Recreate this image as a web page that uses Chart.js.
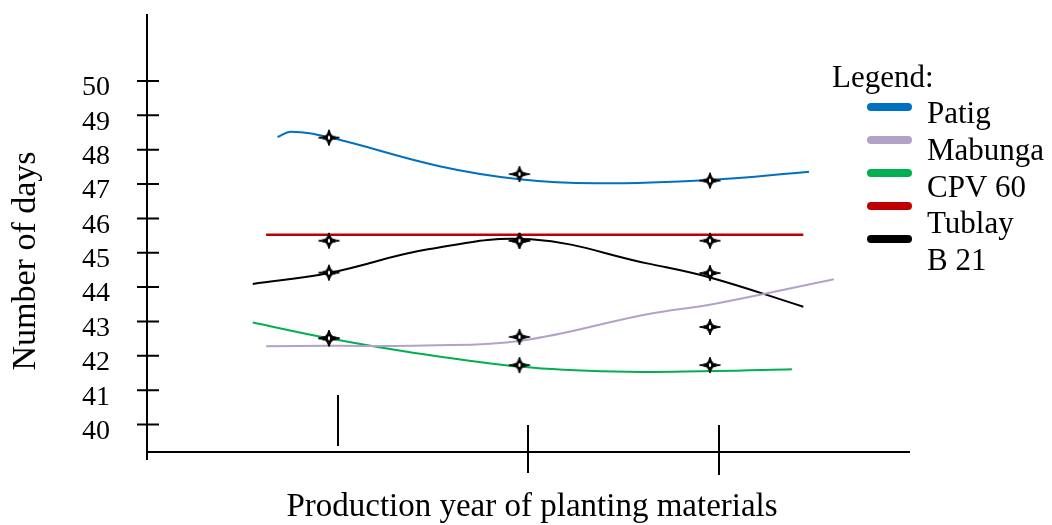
<!DOCTYPE html>
<html>
<head>
<meta charset="utf-8">
<script src="https://cdn.jsdelivr.net/npm/chart.js@4.4.1/dist/chart.umd.min.js"></script>
<style>
  html, body { margin: 0; padding: 0; background: #fff; }
  canvas { display: block; }
</style>
</head>
<body>
<canvas id="plantingDaysCanvas" width="1052" height="525"></canvas>
<script>
// production years (the original axis has no year labels)
const years = [1, 2, 3];
const yTickValues = [40, 41, 42, 43, 44, 45, 46, 47, 48, 49, 50];
const seriesNames = ['Patig', 'Mabunga', 'CPV 60', 'Tublay', 'B 21'];
const seriesColors = ['#0070c0', '#b3a2c7', '#00b050', '#c00000', '#000000'];

// observed number of days per production year
const patigDays = [48.35, 47.29, 47.10];
const mabungaDays = [42.51, 42.55, 42.84];
const cpv60Days = [42.51, 41.73, 41.73];
const tublayDays = [45.35, 45.35, 45.35];
const b21Days = [44.42, 45.35, 44.41];

// trend curves as drawn on the original, [year position, days]
const patigTrend = [[0.73, 48.37], [0.80, 48.52], [1.0, 48.36], [1.58, 47.52], [2.0, 47.14], [2.4, 47.02], [3.0, 47.12], [3.52, 47.36]];
const mabungaTrend = [[0.67, 42.28], [1.0, 42.29], [1.5, 42.30], [2.01, 42.44], [2.67, 43.21], [3.02, 43.51], [3.65, 44.23]];
const cpv60Trend = [[0.60, 42.97], [1.0, 42.51], [1.41, 42.12], [2.01, 41.68], [2.5, 41.54], [3.02, 41.56], [3.43, 41.61]];
const tublayTrend = [[0.67, 45.52], [3.49, 45.52]];
const b21Trend = [[0.60, 44.09], [1.0, 44.41], [1.52, 45.10], [2.06, 45.39], [2.67, 44.69], [3.0, 44.28], [3.49, 43.43]];

const observed = [patigDays, mabungaDays, cpv60Days, tublayDays, b21Days];
const trends = [patigTrend, mabungaTrend, cpv60Trend, tublayTrend, b21Trend];

const serif = '"Liberation Serif", "Times New Roman", serif';

// four pointed marker with a small white centre
function makeStarMarker() {
  const c = document.createElement('canvas');
  c.width = 26;
  c.height = 20;
  const g = c.getContext('2d');
  const cx = 13, cy = 10;
  g.beginPath();
  g.moveTo(cx + 10.5, cy);
  g.quadraticCurveTo(cx + 3, cy + 1.5, cx + 2.6, cy + 2.6);
  g.quadraticCurveTo(cx + 1.4, cy + 3.5, cx, cy + 8);
  g.quadraticCurveTo(cx - 1.4, cy + 3.5, cx - 2.6, cy + 2.6);
  g.quadraticCurveTo(cx - 3, cy + 1.5, cx - 10.5, cy);
  g.quadraticCurveTo(cx - 3, cy - 1.5, cx - 2.6, cy - 2.6);
  g.quadraticCurveTo(cx - 1.4, cy - 3.5, cx, cy - 8);
  g.quadraticCurveTo(cx + 1.4, cy - 3.5, cx + 2.6, cy - 2.6);
  g.quadraticCurveTo(cx + 3, cy - 1.5, cx + 10.5, cy);
  g.closePath();
  g.fillStyle = '#000';
  g.fill();
  g.lineWidth = 1;
  g.strokeStyle = '#000';
  g.stroke();
  g.beginPath();
  g.ellipse(cx, cy, 1.2, 2, 0, 0, Math.PI * 2);
  g.fillStyle = '#fff';
  g.fill();
  return c;
}
const starMarker = makeStarMarker();

const datasets = [];
observed.forEach((vals, i) => {
  datasets.push({
    label: seriesNames[i] + ' observed',
    data: years.map((yr, j) => ({ x: yr, y: vals[j] })),
    showLine: false,
    pointStyle: starMarker,
    pointRadius: 10,
    borderColor: '#000',
    backgroundColor: '#000'
  });
});
trends.forEach((pts, i) => {
  datasets.push({
    label: seriesNames[i],
    data: pts.map(p => ({ x: p[0], y: p[1] })),
    borderColor: seriesColors[i],
    borderWidth: i === 3 ? 2.5 : 2,
    pointRadius: 0,
    tension: 0.4,
    fill: false
  });
});

// x tick marks: offset from the year position and their span around the axis line
const xTickOffset = 9;
const xTickSpans = [[-57, -6], [-27, 21], [-27, 23]];

const axesPlugin = {
  id: 'handDrawnAxes',
  beforeDatasetsDraw(chart) {
    const ctx = chart.ctx;
    const area = chart.chartArea;
    const xs = chart.scales.x;
    const ys = chart.scales.y;
    ctx.save();
    ctx.strokeStyle = '#000';
    ctx.lineWidth = 2;
    ctx.beginPath();
    ctx.moveTo(area.left - 1, area.top - 1);
    ctx.lineTo(area.left - 1, area.bottom + 8);
    ctx.moveTo(area.left - 1, area.bottom);
    ctx.lineTo(area.right, area.bottom);
    yTickValues.forEach(v => {
      const py = ys.getPixelForValue(v);
      ctx.moveTo(area.left - 11, py);
      ctx.lineTo(area.left + 11, py);
    });
    years.forEach((yr, j) => {
      const px = Math.round(xs.getPixelForValue(yr) + xTickOffset);
      ctx.moveTo(px, area.bottom + xTickSpans[j][0]);
      ctx.lineTo(px, area.bottom + xTickSpans[j][1]);
    });
    ctx.stroke();

    ctx.fillStyle = '#000';
    ctx.font = '28px ' + serif;
    ctx.textAlign = 'right';
    ctx.textBaseline = 'middle';
    yTickValues.forEach(v => {
      ctx.fillText(String(v), 110, ys.getPixelForValue(v) + 7);
    });
    ctx.restore();
  },
  afterDraw(chart) {
    const ctx = chart.ctx;
    ctx.save();
    ctx.fillStyle = '#000';
    ctx.textBaseline = 'alphabetic';

    // axis titles
    ctx.textAlign = 'center';
    ctx.font = '33px ' + serif;
    ctx.fillText('Production year of planting materials', 532, 516);
    ctx.save();
    ctx.translate(35, 261);
    ctx.rotate(-Math.PI / 2);
    ctx.font = '34px ' + serif;
    ctx.fillText('Number of days', 0, 0);
    ctx.restore();

    // legend
    ctx.textAlign = 'left';
    ctx.font = '31px ' + serif;
    ctx.fillText('Legend:', 832, 87);
    seriesNames.forEach((name, i) => {
      ctx.fillText(name, 927, 123 + i * 36.8);
      ctx.strokeStyle = seriesColors[i];
      ctx.lineWidth = 8;
      ctx.lineCap = 'round';
      ctx.beginPath();
      ctx.moveTo(871, 107 + i * 33);
      ctx.lineTo(908, 107 + i * 33);
      ctx.stroke();
    });
    ctx.restore();
  }
};

const ctx = document.getElementById('plantingDaysCanvas').getContext('2d');
const plantingDaysChart = new Chart(ctx, {
  type: 'line',
  data: { datasets: datasets },
  options: {
    responsive: false,
    animation: false,
    devicePixelRatio: 1,
    layout: {
      padding: { left: 148, top: 15, right: 142, bottom: 73 }
    },
    plugins: {
      legend: { display: false },
      tooltip: { enabled: false }
    },
    scales: {
      x: { type: 'linear', min: 0.05, max: 4.05, display: false },
      y: { type: 'linear', min: 39.2, max: 51.92, display: false }
    }
  },
  plugins: [axesPlugin]
});
</script>
</body>
</html>
